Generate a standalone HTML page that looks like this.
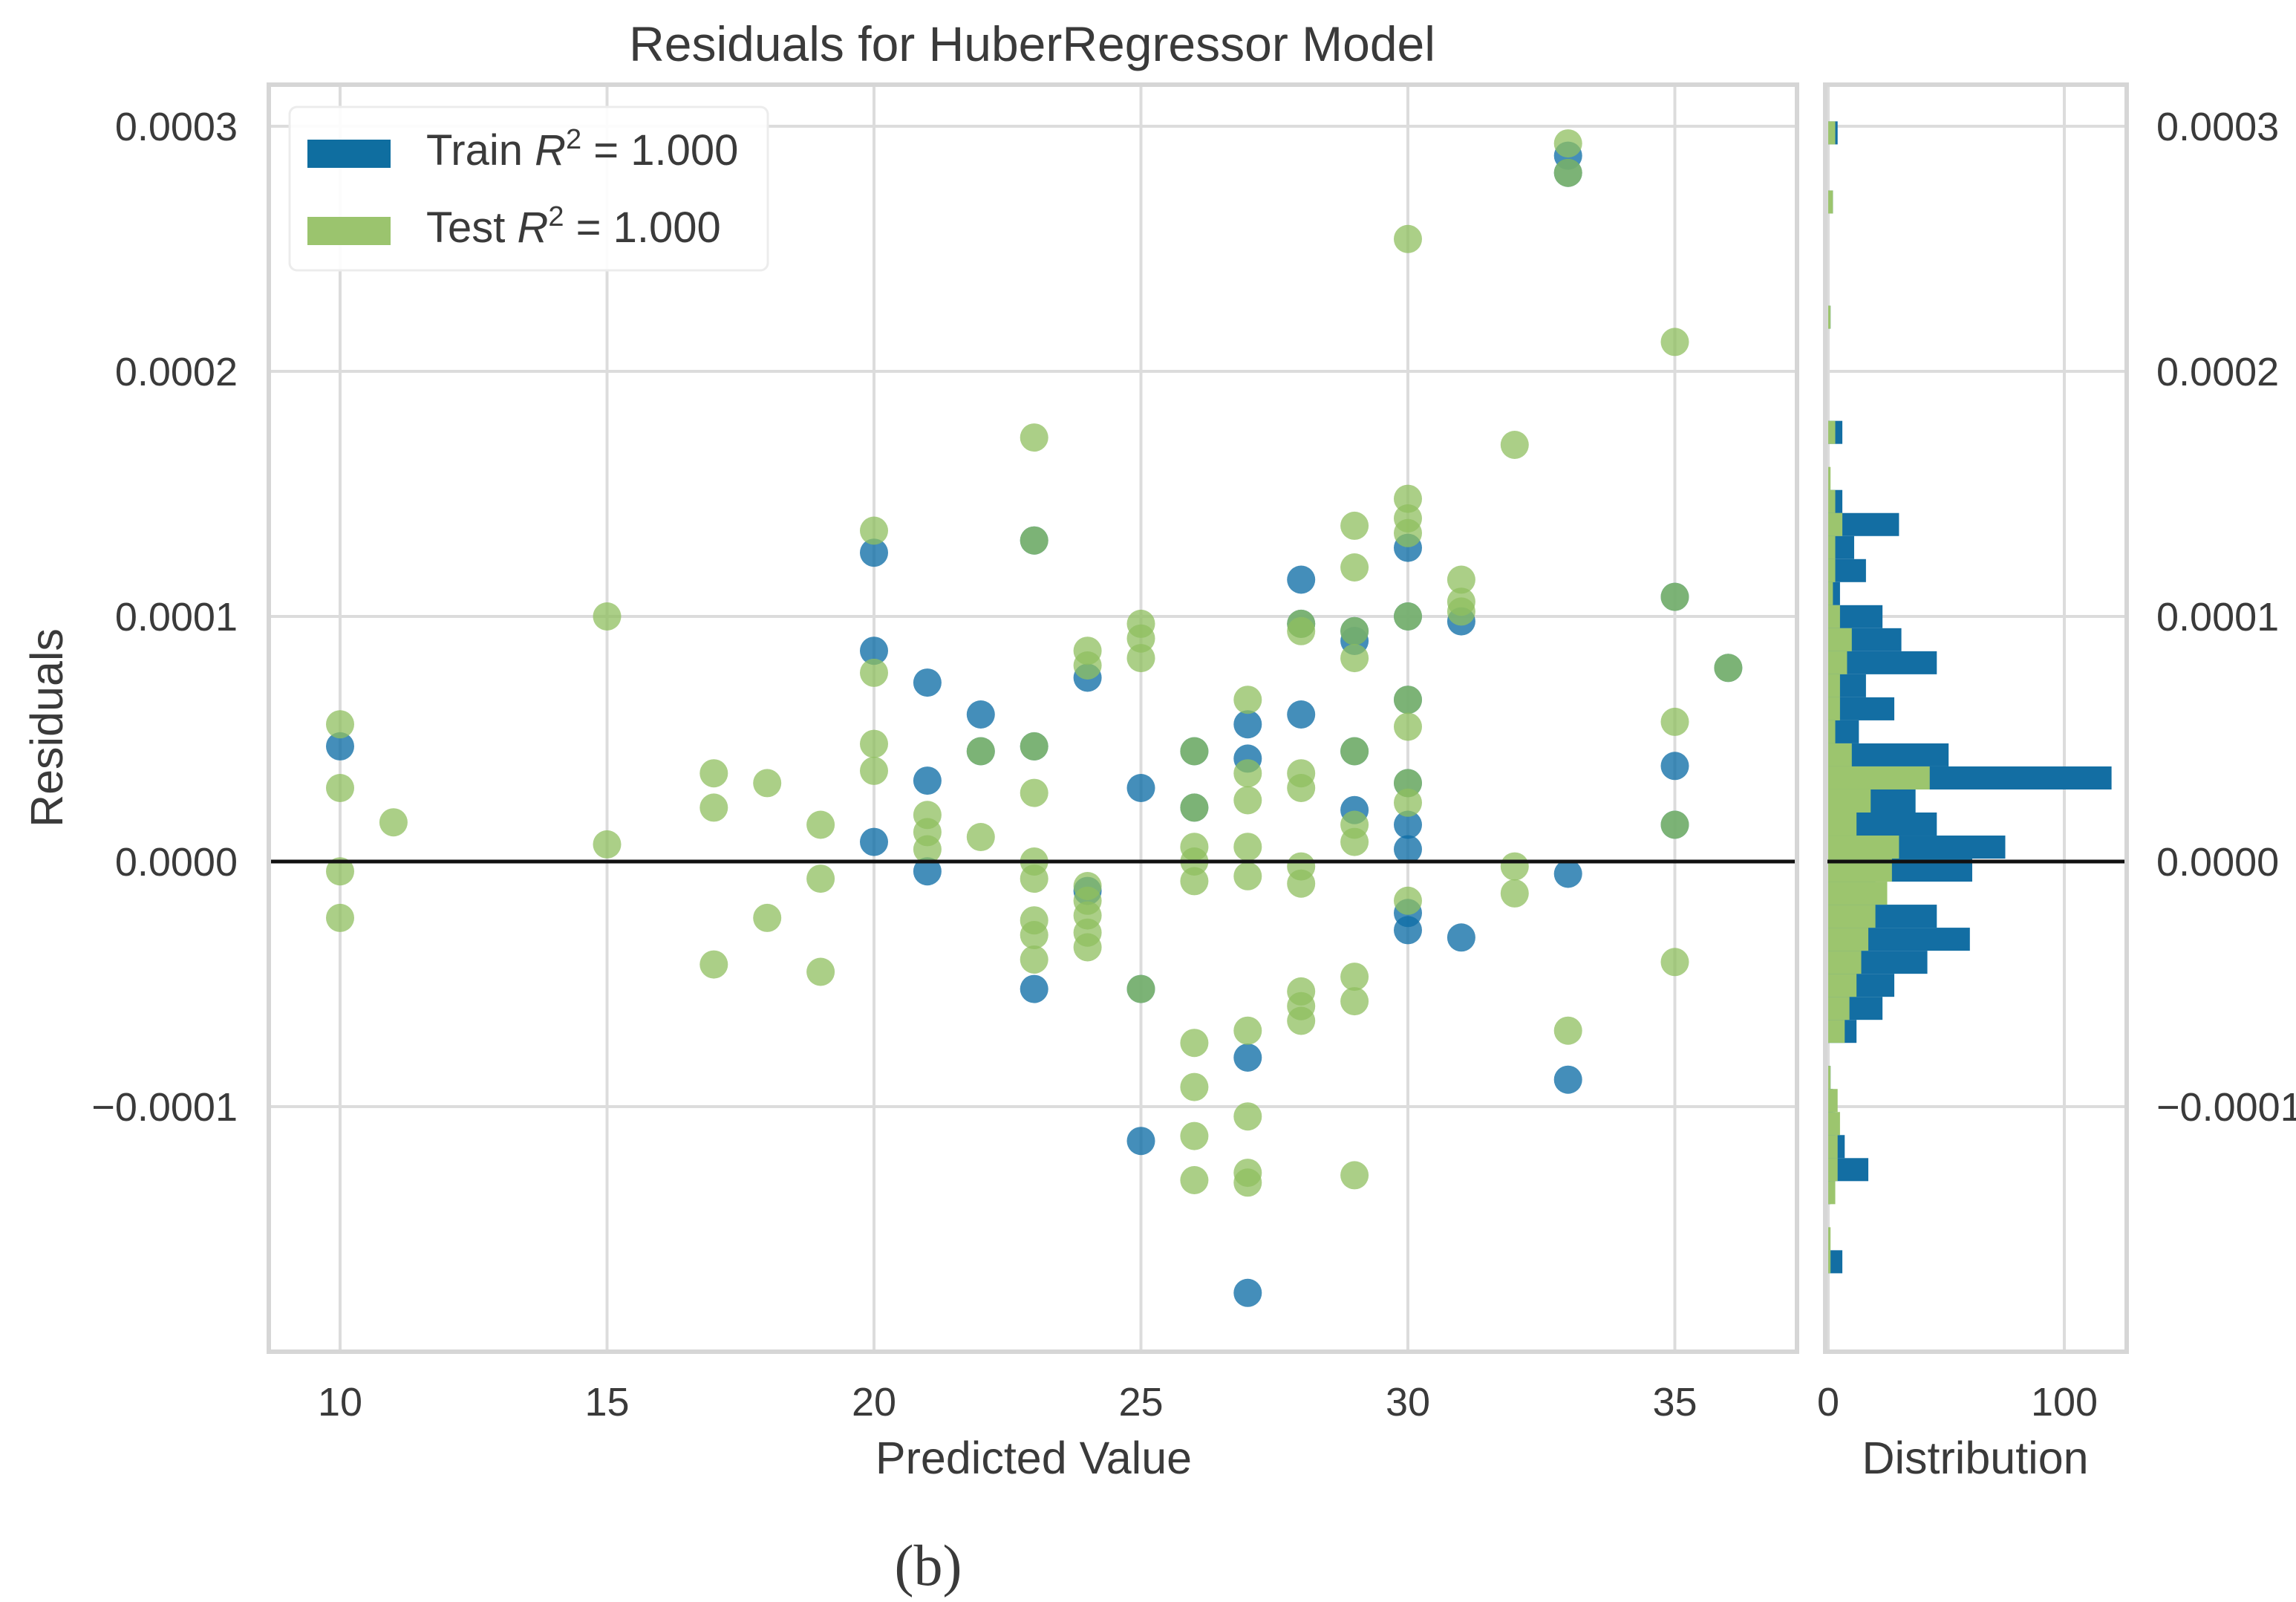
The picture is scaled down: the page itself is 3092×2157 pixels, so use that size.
<!DOCTYPE html>
<html><head><meta charset="utf-8">
<style>
html,body{margin:0;padding:0;background:#fff;}
svg text{font-family:"Liberation Sans",sans-serif;fill:#3a3a3a;}
</style></head>
<body>
<svg id="chart" xmlns="http://www.w3.org/2000/svg" width="3092" height="2152" viewBox="0 0 3092 2152">
<rect x="0" y="0" width="3092" height="2152" fill="#fff"/>
<g id="grid"></g>
<g id="marks"></g>
<g id="hist"></g>
<g id="frames"></g>
<g id="labels"></g>
</svg>
<script>
// Scatter data (residual values in units of 1e-4)
const trainX = [10,20,20,20,21,21,21,22,22,23,23,23,24,24,25,25,25,26,26,27,27,27,27,28,28,28,29,29,29,29,30,30,30,30,30,30,30,30,31,31,33,33,33,33,35,35,35,36];
const trainY = [0.47,1.26,0.86,0.08,0.73,0.33,-0.04,0.60,0.45,1.31,0.47,-0.52,0.75,-0.12,0.30,-0.52,-1.14,0.45,0.22,0.56,0.42,-0.80,-1.76,1.15,0.97,0.60,0.94,0.90,0.45,0.21,1.28,1.00,0.66,0.32,0.15,0.05,-0.21,-0.28,0.98,-0.31,2.88,2.81,-0.05,-0.89,1.08,0.39,0.15,0.79];
const testX = [10,10,10,10,11,15,15,17,17,17,18,18,19,19,19,20,20,20,20,21,21,21,22,22,23,23,23,23,23,23,23,23,23,24,24,24,24,24,24,24,25,25,25,25,26,26,26,26,26,26,26,26,26,27,27,27,27,27,27,27,27,27,28,28,28,28,28,28,28,28,28,29,29,29,29,29,29,29,29,29,29,30,30,30,30,30,30,30,30,30,30,31,31,31,32,32,32,33,33,33,35,35,35,35,35,36];
const testY = [0.56,0.30,-0.04,-0.23,0.16,1.00,0.07,0.36,0.22,-0.42,0.32,-0.23,0.15,-0.07,-0.45,1.35,0.77,0.48,0.37,0.19,0.12,0.05,0.10,0.45,1.73,1.31,0.47,0.28,0.00,-0.07,-0.24,-0.30,-0.40,0.86,0.80,-0.10,-0.16,-0.22,-0.29,-0.35,0.97,0.91,0.83,-0.52,0.45,0.22,0.06,0.00,-0.08,-0.74,-0.92,-1.12,-1.30,0.66,0.36,0.25,0.06,-0.06,-0.69,-1.04,-1.27,-1.31,0.97,0.94,0.36,0.30,-0.02,-0.09,-0.53,-0.59,-0.65,1.37,1.20,0.94,0.83,0.45,0.15,0.08,-0.47,-0.57,-1.28,2.54,1.48,1.40,1.34,1.00,0.66,0.55,0.32,0.24,-0.16,1.15,1.06,1.02,1.70,-0.02,-0.13,2.93,2.81,-0.69,2.12,1.08,0.57,0.15,-0.41,0.79];
// Histogram data: bins start at -1.68 (1e-4 units), width 0.094
const histStart = -1.68, histWidth = 0.094;
const trainCounts = [6,0,0,1,17,7,3,2,1,0,12,23,28,42,60,46,20,61,75,46,37,120,51,13,28,16,46,31,23,5,16,11,30,6,0,0,6,0,0,0,0,1,0,0,0,0,2,0,0,4];
const testCounts  = [1,1,0,3,4,4,5,4,1,0,7,9,12,14,17,20,25,27,30,12,18,43,10,3,5,5,8,10,5,2,3,3,6,3,1,0,3,0,0,0,0,1,0,0,0,0,2,0,0,3];
const yTicks = [0.0003,0.0002,0.0001,0,-0.0001];
const yTickLabels = ["0.0003","0.0002","0.0001","0.0000","\u22120.0001"];
const xTicks = [10,15,20,25,30,35];
const hTicks = [0,100];

const NS="http://www.w3.org/2000/svg";
const L=362,R=2420,T=114,B=1820, HL=2458,HR=2864;
function xs(v){return 458+(v-10)*71.9;}
function ys(v){return 1160-v*330;}            // v in 1e-4
function ysRaw(v){return ys(v*1e4);}
function hx(c){return 2462+c*3.18;}
function mk(parent,tag,attrs){const e=document.createElementNS(NS,tag);for(const k in attrs)e.setAttribute(k,attrs[k]);parent.appendChild(e);return e;}
const grid=document.getElementById('grid'),marks=document.getElementById('marks'),hist=document.getElementById('hist'),frames=document.getElementById('frames'),labels=document.getElementById('labels');

yTicks.forEach((t,i)=>{
  const y=ysRaw(t);
  let g=mk(grid,'line',{x1:L,x2:R,y1:y,y2:y,stroke:'#dcdcdc','stroke-width':4});
  
  
  let g2=mk(grid,'line',{x1:HL,x2:HR,y1:y,y2:y,stroke:'#dcdcdc','stroke-width':4});
  
  
  let tl=mk(labels,'text',{x:320,y:y+19,'text-anchor':'end','font-size':54});
  tl.textContent=yTickLabels[i];
  
  
  let tr=mk(labels,'text',{x:2904,y:y+19,'text-anchor':'start','font-size':54});
  tr.textContent=yTickLabels[i];
  
  
});
xTicks.forEach(t=>{
  const x=xs(t);
  let g=mk(grid,'line',{x1:x,x2:x,y1:T,y2:B,stroke:'#dcdcdc','stroke-width':4});
  
  
  let tl=mk(labels,'text',{x:x,y:1906,'text-anchor':'middle','font-size':54});
  tl.textContent=String(t);
  
  
});
hTicks.forEach(t=>{
  const x=hx(t);
  let g=mk(grid,'line',{x1:x,x2:x,y1:T,y2:B,stroke:'#dcdcdc','stroke-width':4});
  
  
  let tl=mk(labels,'text',{x:x,y:1906,'text-anchor':'middle','font-size':54});
  tl.textContent=String(t);
  
  
});

trainX.forEach((v,i)=>{
  let c=mk(marks,'circle',{cx:xs(v),cy:ys(trainY[i]),r:19,fill:'#0f6ea6','fill-opacity':0.78});
  
  
});
testX.forEach((v,i)=>{
  let c=mk(marks,'circle',{cx:xs(v),cy:ys(testY[i]),r:19,fill:'#8fbf5f','fill-opacity':0.75});
  
  
});

trainCounts.forEach((c,i)=>{
  if(!c)return;
  const lo=histStart+i*histWidth, hi=lo+histWidth;
  let r=mk(hist,'rect',{x:hx(0),y:ys(hi),width:hx(c)-hx(0),height:ys(lo)-ys(hi),fill:'#136ea3'});
  
  
});
testCounts.forEach((c,i)=>{
  if(!c)return;
  const lo=histStart+i*histWidth, hi=lo+histWidth;
  let r=mk(hist,'rect',{x:hx(0),y:ys(hi),width:hx(c)-hx(0),height:ys(lo)-ys(hi),fill:'#9cc56e'});
  
  
});

let z1=mk(frames,'line',{x1:L,x2:R,y1:ys(0),y2:ys(0),stroke:'#111','stroke-width':5});


let z2=mk(frames,'line',{x1:HL,x2:HR,y1:ys(0),y2:ys(0),stroke:'#111','stroke-width':5});



let f1=mk(frames,'rect',{x:L,y:T,width:R-L,height:B-T,fill:'none',stroke:'#d6d6d6','stroke-width':6});


let f2=mk(frames,'rect',{x:HL,y:T,width:HR-HL,height:B-T,fill:'none',stroke:'#d6d6d6','stroke-width':6});


</script>
<svg style="position:absolute;left:0;top:0" width="3092" height="2152">
  <text x="1390" y="82" text-anchor="middle" font-size="66" fill="#333">Residuals for HuberRegressor Model</text>
  <text x="1392" y="1984" text-anchor="middle" font-size="61" fill="#333">Predicted Value</text>
  <text x="2660" y="1984" text-anchor="middle" font-size="61" fill="#333">Distribution</text>
  <text transform="translate(84,980) rotate(-90)" text-anchor="middle" font-size="61" fill="#333">Residuals</text>
  <g>
    <rect x="390" y="144" width="644" height="220" rx="10" fill="#fff" fill-opacity="0.9" stroke="#ececec" stroke-width="3"/>
    <rect x="414" y="188" width="112" height="38" fill="#0f6ea0"/>
    <text x="574" y="222" font-size="58" fill="#333">Train <tspan font-style="italic">R</tspan><tspan dy="-22" font-size="38">2</tspan><tspan dy="22"> = 1.000</tspan></text>
    <rect x="414" y="292" width="112" height="38" fill="#9bc46e"/>
    <text x="574" y="326" font-size="58" fill="#333">Test <tspan font-style="italic">R</tspan><tspan dy="-22" font-size="38">2</tspan><tspan dy="22"> = 1.000</tspan></text>
  </g>
  <text x="1250" y="2134" text-anchor="middle" font-size="78" style="font-family:'Liberation Serif',serif" fill="#111">(b)</text>
</svg>
</body></html>
